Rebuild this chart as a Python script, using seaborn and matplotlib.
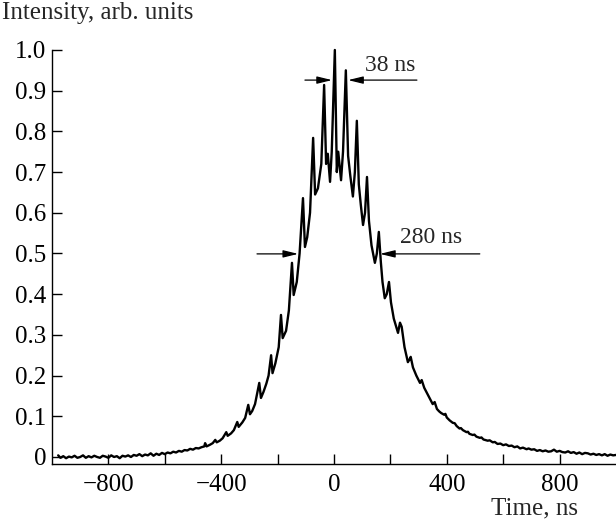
import numpy as np
import pandas as pd
import matplotlib
matplotlib.use("Agg")
import matplotlib.pyplot as plt
import seaborn as sns

# Valori (tempo in ns, intensita in unita arbitrarie)
time_ns = [-978, -970, -960, -950, -940, -930, -920, -910, -900, -890,
           -880, -870, -860, -850, -840, -830, -820, -810, -800, -790,
           -780, -770, -760, -750, -740, -730, -720, -710, -700, -690,
           -680, -670, -660, -650, -640, -630, -620, -610, -600, -590,
           -580, -570, -560, -550, -540, -530, -520, -510, -500, -490,
           -480, -470, -460, -457, -452, -440, -430, -421, -416, -405,
           -395, -382, -377, -365, -355, -343, -338, -325, -315, -304,
           -298, -290, -280, -265, -259, -250, -240, -232, -223, -218,
           -208, -196, -188, -182, -170, -160, -149, -143, -132, -122,
           -110, -103, -95, -85, -74, -67, -57, -45, -35, -28,
           -22, -14, -8, 3, 10, 15, 25, 32, 42, 50,
           58, 67, 74, 81, 88, 95, 103, 110, 117, 124,
           133, 145, 152, 159, 166, 172, 180, 187, 195, 202,
           212, 227, 234, 240, 250, 262, 268, 272, 280, 292,
           305, 311, 320, 335, 350, 357, 365, 373, 380, 390,
           395, 400, 410, 421, 428, 435, 445, 450, 457, 470,
           475, 480, 492, 498, 505, 517, 523, 530, 545, 552,
           563, 570, 580, 590, 600, 610, 620, 630, 640, 650,
           660, 670, 683, 690, 700, 710, 720, 730, 740, 750,
           760, 770, 780, 790, 800, 810, 820, 830, 840, 850,
           860, 870, 880, 890, 900, 910, 920, 930, 940, 950,
           960, 970, 980, 990, 1000]
intensity = [0.004, -0.002, 0.002, -0.003, 0.001, -0.001, 0.003, -0.002, 0.000, 0.004,
             -0.002, 0.002, -0.001, 0.003, 0.000, -0.002, 0.003, 0.001, -0.002, 0.004,
             0.000, 0.002, -0.003, 0.003, 0.001, 0.004, 0.000, 0.005, 0.003, 0.007,
             0.002, 0.006, 0.004, 0.009, 0.003, 0.008, 0.005, 0.010, 0.007, 0.011,
             0.009, 0.013, 0.011, 0.015, 0.013, 0.017, 0.016, 0.020, 0.018, 0.022,
             0.021, 0.024, 0.026, 0.034, 0.026, 0.030, 0.034, 0.042, 0.036, 0.040,
             0.046, 0.061, 0.052, 0.058, 0.066, 0.086, 0.074, 0.085, 0.096, 0.128,
             0.105, 0.113, 0.130, 0.182, 0.145, 0.160, 0.180, 0.200, 0.250, 0.206,
             0.230, 0.270, 0.349, 0.292, 0.310, 0.360, 0.477, 0.398, 0.430, 0.500,
             0.636, 0.516, 0.540, 0.600, 0.784, 0.645, 0.660, 0.720, 0.914, 0.720,
             0.745, 0.676, 0.750, 1.000, 0.700, 0.750, 0.680, 0.750, 0.950, 0.740,
             0.690, 0.640, 0.700, 0.826, 0.670, 0.620, 0.570, 0.600, 0.688, 0.580,
             0.520, 0.477, 0.500, 0.553, 0.480, 0.430, 0.390, 0.400, 0.430, 0.380,
             0.340, 0.305, 0.330, 0.320, 0.270, 0.233, 0.240, 0.246, 0.220, 0.200,
             0.182, 0.189, 0.170, 0.150, 0.130, 0.135, 0.118, 0.112, 0.108, 0.104,
             0.106, 0.097, 0.090, 0.084, 0.083, 0.076, 0.070, 0.071, 0.066, 0.061,
             0.062, 0.057, 0.054, 0.055, 0.050, 0.047, 0.048, 0.043, 0.040, 0.041,
             0.036, 0.037, 0.032, 0.033, 0.029, 0.031, 0.027, 0.028, 0.024, 0.026,
             0.021, 0.023, 0.019, 0.021, 0.018, 0.019, 0.015, 0.017, 0.014, 0.016,
             0.013, 0.014, 0.018, 0.013, 0.015, 0.012, 0.011, 0.014, 0.010, 0.012,
             0.008, 0.011, 0.007, 0.010, 0.009, 0.006, 0.008, 0.005, 0.007, 0.004,
             0.007, 0.003, 0.006, 0.004, 0.005]

x_ticks = [-800, -600, -400, -200, 0, 200, 400, 600, 800]
x_tick_labels = ["\u2212800", "", "\u2212400", "", "0", "", "400", "", "800"]
y_ticks = [0, 0.1, 0.2, 0.3, 0.4, 0.5, 0.6, 0.7, 0.8, 0.9, 1.0]
y_tick_labels = ["0", "0.1", "0.2", "0.3", "0.4", "0.5", "0.6", "0.7", "0.8", "0.9", "1.0"]


def main():
    df = pd.DataFrame({"time": time_ns, "intensity": intensity})

    sns.set_style("ticks")
    plt.rcParams["font.family"] = ["Liberation Serif", "DejaVu Serif"]

    fig = plt.figure(figsize=(6.16, 5.19), dpi=100)
    ax = fig.add_axes([0.0844, 0.106, 0.9156, 0.7977])

    sns.lineplot(x="time", y="intensity", data=df, ax=ax, color="black",
                 linewidth=1.7, clip_on=False)

    ax.set_xlim(-1000, 1000)
    ax.set_ylim(-0.0172, 1.0)
    ax.set_xticks(x_ticks)
    ax.set_xticklabels(x_tick_labels)
    ax.set_yticks(y_ticks)
    ax.set_yticklabels(y_tick_labels)
    ax.tick_params(direction="in", length=7, width=1.0, labelsize=18, colors="black")
    ax.tick_params(axis="x", pad=7)
    ax.tick_params(axis="y", pad=4)
    ax.set_xlabel("")
    ax.set_ylabel("")
    sns.despine(ax=ax)
    for s in ["left", "bottom"]:
        ax.spines[s].set_linewidth(1.0)
        ax.spines[s].set_color("black")

    # frecce 38 ns e 280 ns
    arrow = dict(arrowstyle="-|>,head_length=0.9,head_width=0.22", color="black",
                 lw=0.9, shrinkA=0, shrinkB=0, mutation_scale=10)
    ax.annotate("", xy=(-7, 0.926), xytext=(-103, 0.926), arrowprops=arrow)
    ax.annotate("", xy=(50, 0.926), xytext=(294, 0.926), arrowprops=arrow)
    ax.text(198, 0.963, "38 ns", fontsize=17, ha="center", va="center")

    ax.annotate("", xy=(-127, 0.499), xytext=(-273, 0.499), arrowprops=arrow)
    ax.annotate("", xy=(163, 0.499), xytext=(517, 0.499), arrowprops=arrow)
    ax.text(343, 0.54, "280 ns", fontsize=17, ha="center", va="center")

    fig.text(0.003, 1 - 13 / 519, "Intensity, arb. units", fontsize=18,
             ha="left", va="center")
    fig.text(578 / 616, 1 - 508 / 519, "Time, ns", fontsize=18,
             ha="right", va="center")

    fig.savefig("out.png", dpi=100)


if __name__ == '__main__':
    main()
